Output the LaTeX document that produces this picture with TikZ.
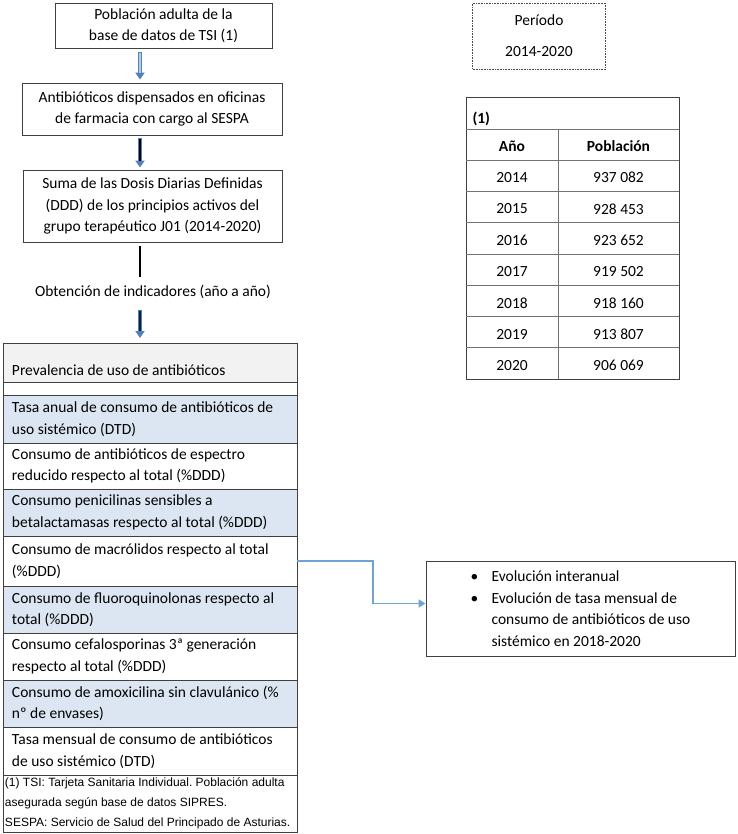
\documentclass[tikz,border=0pt]{standalone}
\usepackage{fontspec}
\setmainfont{Carlito}
\newfontfamily\arialfont{Liberation Sans}
\usetikzlibrary{positioning,arrows.meta}
\definecolor{azulfila}{HTML}{DCE6F2}
\definecolor{grisfila}{HTML}{F2F2F2}
\definecolor{azulflecha}{HTML}{4F81BD}
\definecolor{azulcon}{HTML}{6FA3D8}
\definecolor{borde}{HTML}{404040}
\frenchspacing

\begin{document}
\begin{tikzpicture}[x=1pt, y=-1pt,
    every node/.style={font=\fontsize{15.5}{21.5}\selectfont},
    caja/.style={draw=borde, line width=0.9pt, align=center, inner sep=0pt},
    fila/.style={draw=borde, line width=0.8pt, outer sep=0pt, minimum width=294pt,
                 text width=276pt, inner xsep=9pt, inner ysep=0pt, align=flush left},
    flecha/.style={draw=azulflecha, line width=3.4pt, -{Triangle[length=7pt,width=9pt]}}]
    \useasboundingbox (0,0) rectangle (737,834);

    % Diagrama de flujo
    \node[caja, minimum width=217pt, minimum height=45pt] (tsi) at (163.5,25.5)
        {Población adulta de la\\base de datos de TSI (1)};
    \node[caja, minimum width=260pt, minimum height=52pt] (dispen) at (152,109)
        {Antibióticos dispensados en oficinas\\de farmacia con cargo al SESPA};
    \node[caja, minimum width=259pt, minimum height=72pt] (suma) at (152.5,206)
        {Suma de las Dosis Diarias Definidas\\(DDD) de los principios activos del\\grupo terapéutico J01 (2014-2020)};
    \node[inner sep=0pt, text height=11pt, text depth=4pt] (obt) at (153,293)
        {Obtención de indicadores (año a año)};
    \coordinate (eje) at (140,0);

    % Flechas verticales
    \draw[flecha, shorten <=4pt, shorten >=3pt] (tsi.south -| eje) -- (dispen.north -| eje);
    \draw[white!60!azulflecha, line width=1.3pt, shorten <=5pt, shorten >=10pt] (tsi.south -| eje) -- (dispen.north -| eje);
    \draw[flecha, shorten <=3pt, shorten >=2pt] (dispen.south -| eje) -- (suma.north -| eje);
    \draw[black, line width=1.5pt, shorten <=4pt, shorten >=9pt] (dispen.south -| eje) -- (suma.north -| eje);
    \draw[black, line width=2.6pt, shorten <=4pt, shorten >=8.5pt] (suma.south -| eje) -- (obt.north -| eje);

    % Indicadores
    \node[fila, fill=grisfila, minimum height=39pt, anchor=north west,
          text height=29pt, text depth=4pt, inner ysep=3pt] (prev) at (3,343)
        {Prevalencia de uso de antibióticos};
    \draw[flecha, shorten <=9.5pt, shorten >=5pt] (obt.south -| eje) -- (prev.north -| eje);
    \draw[black!75!azulflecha, line width=1.5pt, shorten <=10pt, shorten >=12pt] (obt.south -| eje) -- (prev.north -| eje);
    \node[fila, minimum height=13pt, below=0pt of prev] (vacia) {};
    \node[fila, fill=azulfila, minimum height=48pt, below=0pt of vacia] (tasa)
        {Tasa anual de consumo de antibióticos de\\uso sistémico (DTD)};
    \node[fila, minimum height=46pt, below=0pt of tasa] (espectro)
        {Consumo de antibióticos de espectro\\reducido respecto al total (\%DDD)};
    \node[fila, fill=azulfila, minimum height=47pt, below=0pt of espectro] (penic)
        {Consumo penicilinas sensibles a\\betalactamasas respecto al total (\%DDD)};
    \node[fila, minimum height=50pt, below=0pt of penic] (macr)
        {Consumo de macrólidos respecto al total\\(\%DDD)};
    \node[fila, fill=azulfila, minimum height=47pt, below=0pt of macr] (fluor)
        {Consumo de fluoroquinolonas respecto al\\total (\%DDD)};
    \node[fila, minimum height=47pt, below=0pt of fluor] (cefal)
        {Consumo cefalosporinas 3ª generación\\respecto al total (\%DDD)};
    \node[fila, fill=azulfila, minimum height=47pt, below=0pt of cefal] (amox)
        {Consumo de amoxicilina sin clavulánico (\%\\nº de envases)};
    \node[fila, minimum height=48pt, below=0pt of amox] (mensual)
        {Tasa mensual de consumo de antibióticos\\de uso sistémico (DTD)};
    \node[fila, minimum height=57pt, below=0pt of mensual, inner xsep=2pt, text width=290pt,
          font=\arialfont\fontsize{12}{20}\selectfont] (nota)
        {(1) TSI: Tarjeta Sanitaria Individual. Población adulta\\asegurada según base de datos SIPRES.\\SESPA: Servicio de Salud del Principado de Asturias.};

    % Evolucion
    \node[caja, minimum width=309pt, minimum height=95pt, align=flush left] (evol) at (580.5,608.5)
        {\makebox[21pt][l]{\textbullet}Evolución interanual\\
         \makebox[21pt][l]{\textbullet}Evolución de tasa mensual de\\
         \hspace*{21pt}consumo de antibióticos de uso\\
         \hspace*{21pt}sistémico en 2018-2020};
    \draw[azulcon, line width=1.8pt, -{Triangle[length=7pt,width=8pt]}]
        (macr.east) -- ++(76,0) |- ([yshift=5pt]evol.west);

    % Periodo
    \node[draw=black!70, line width=0.6pt, densely dotted, minimum width=133pt, minimum height=66pt,
          align=center] (per) at (539,36)
        {Período\\[9.5pt]2014-2020};

    % Tabla de poblacion
    \draw[borde, line width=0.8pt] (466,97) rectangle (679,379);
    \foreach \yy in {129,160,191.3,222.6,253.9,285.2,316.5,347.8}
        \draw[black!55, line width=0.8pt] (466,\yy) -- (679,\yy);
    \draw[black!55, line width=0.8pt] (558,129) -- (558,379);
    \node[anchor=west, font=\fontsize{15.5}{18}\bfseries] (uno) at (469,119) {(1)};
    \node[font=\fontsize{15.5}{18}\bfseries] (anio) at (512,146) {Año};
    \node[font=\fontsize{15.5}{18}\bfseries] (pobl) at (618.5,146) {Población};
    \foreach \a/\p [count=\i from 0] in {2014/937 082,2015/928 453,2016/923 652,2017/919 502,2018/918 160,2019/913 807,2020/906 069}
    {
        \node (a\a) at (512,177.6+31.3*\i) {\a};
        \node (p\a) at (618.5,177.6+31.3*\i) {\p};
    }
\end{tikzpicture}
\end{document}
